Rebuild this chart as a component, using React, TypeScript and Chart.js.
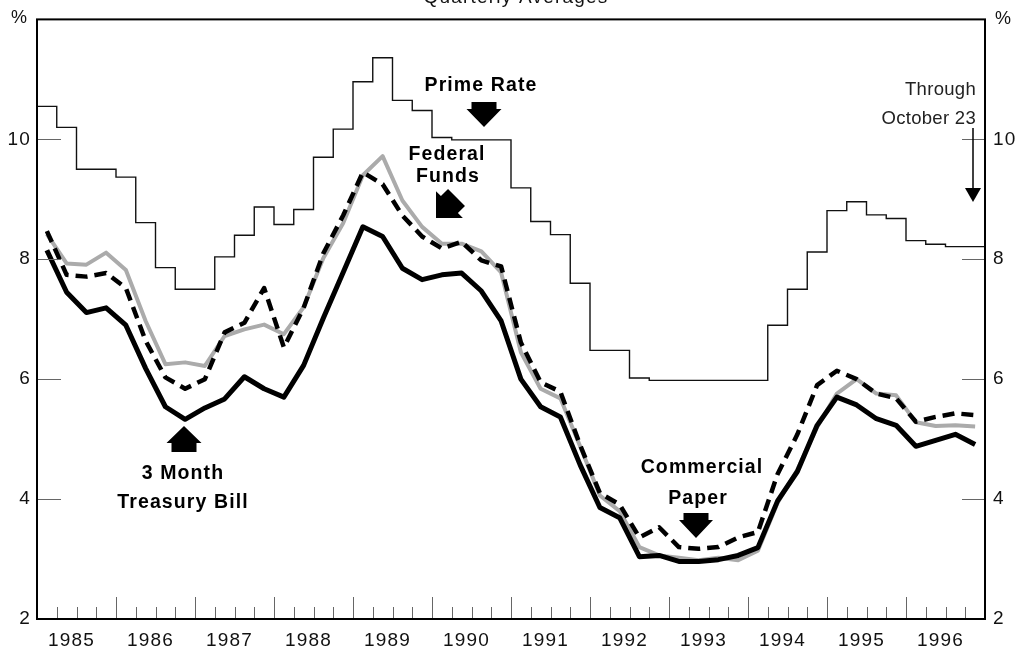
import React, { useEffect, useRef } from 'react';
import { Chart, registerables } from 'chart.js';

Chart.register(...registerables);

// ---- Data (quarterly averages, 1985 Q1 .. 1996 Q4) ----
const yearLabels = ['1985', '1986', '1987', '1988', '1989', '1990', '1991', '1992', '1993', '1994', '1995', '1996'];
const yTickValues = [2, 4, 6, 8, 10];

const primeRate = [
  10.55, 10.2, 9.5, 9.5,
  9.37, 8.61, 7.86, 7.5,
  7.5, 8.04, 8.4, 8.87,
  8.58, 8.83, 9.7, 10.17,
  10.96, 11.36, 10.65, 10.48,
  10.03, 9.99, 9.99, 9.99,
  9.19, 8.63, 8.41, 7.6,
  6.48, 6.48, 6.02, 5.98,
  5.98, 5.98, 5.98, 5.98,
  5.98, 6.9, 7.5, 8.12,
  8.81, 8.96, 8.74, 8.68,
  8.31, 8.25, 8.21, 8.21,
];

const fedFunds = [
  8.42, 7.93, 7.91, 8.11,
  7.82, 6.97, 6.25, 6.28,
  6.22, 6.72, 6.83, 6.91,
  6.75, 7.2, 8.02, 8.6,
  9.4, 9.72, 8.98, 8.54,
  8.26, 8.26, 8.13, 7.78,
  6.45, 5.84, 5.68, 4.88,
  4.06, 3.8, 3.2, 3.06,
  3.02, 2.98, 3.02, 2.98,
  3.14, 3.94, 4.49, 5.2,
  5.76, 6.0, 5.76, 5.73,
  5.28, 5.22, 5.23, 5.21,
];

const commercialPaper = [
  8.47, 7.74, 7.71, 7.77,
  7.52, 6.64, 6.03, 5.84,
  6.0, 6.78, 6.94, 7.52,
  6.53, 7.19, 8.1, 8.73,
  9.45, 9.25, 8.73, 8.38,
  8.18, 8.29, 7.98, 7.88,
  6.61, 5.95, 5.79, 4.9,
  4.1, 3.91, 3.36, 3.53,
  3.2, 3.17, 3.2, 3.36,
  3.45, 4.42, 5.08, 5.9,
  6.14, 6.0, 5.76, 5.68,
  5.29, 5.37, 5.43, 5.4,
];

const treasuryBill = [
  8.15, 7.45, 7.11, 7.19,
  6.9, 6.18, 5.54, 5.33,
  5.52, 5.67, 6.04, 5.84,
  5.7, 6.23, 7.02, 7.78,
  8.54, 8.38, 7.85, 7.66,
  7.74, 7.77, 7.47, 6.97,
  6.0, 5.54, 5.37, 4.57,
  3.86, 3.69, 3.04, 3.06,
  2.96, 2.96, 2.99, 3.06,
  3.19, 3.97, 4.46, 5.23,
  5.7, 5.57, 5.34, 5.23,
  4.88, 4.98, 5.08, 4.91,
];

const FONT = "'Liberation Sans', Arial, Helvetica, sans-serif";

const centerPoints = (values: number[]) => values.map((v, i) => ({ x: i + 0.5, y: v }));
const stepPoints = (values: number[]) => {
  const pts = values.map((v, i) => ({ x: i, y: v }));
  pts.push({ x: values.length, y: values[values.length - 1] });
  return pts;
};

function blockArrow(
  ctx: CanvasRenderingContext2D,
  tipX: number, tipY: number, angle: number,
  headW: number, headL: number, shaftW: number, shaftL: number
) {
  ctx.save();
  ctx.translate(tipX, tipY);
  ctx.rotate(angle);
  ctx.beginPath();
  ctx.moveTo(0, 0);
  ctx.lineTo(-headW / 2, -headL);
  ctx.lineTo(-shaftW / 2, -headL);
  ctx.lineTo(-shaftW / 2, -headL - shaftL);
  ctx.lineTo(shaftW / 2, -headL - shaftL);
  ctx.lineTo(shaftW / 2, -headL);
  ctx.lineTo(headW / 2, -headL);
  ctx.closePath();
  ctx.fillStyle = '#000';
  ctx.fill();
  ctx.restore();
}

const decorPlugin = {
  id: 'decor',
  beforeDraw(chart: any) {
    const ctx = chart.ctx as CanvasRenderingContext2D;
    ctx.save();
    ctx.fillStyle = '#fff';
    ctx.fillRect(0, 0, chart.width, chart.height);
    ctx.restore();
    (ctx as any).letterSpacing = '1.2px';
  },
  afterDraw(chart: any) {
    const ctx = chart.ctx as CanvasRenderingContext2D;
    const { left, right, top, bottom } = chart.chartArea;
    const xs = chart.scales.x;
    const ys = chart.scales.y;
    ctx.save();

    // inner tick marks on the y axes
    ctx.strokeStyle = '#666';
    ctx.lineWidth = 1;
    yTickValues.forEach((v) => {
      const py = Math.round(ys.getPixelForValue(v)) + 0.5;
      ctx.beginPath();
      ctx.moveTo(left, py);
      ctx.lineTo(left + 24, py);
      ctx.moveTo(right, py);
      ctx.lineTo(right - 23, py);
      ctx.stroke();
    });

    // quarterly tick marks on the x axis
    for (let k = 1; k < primeRate.length; k++) {
      const px = Math.round(xs.getPixelForValue(k)) + 0.5;
      const len = k % 4 === 0 ? 22 : 12;
      ctx.beginPath();
      ctx.moveTo(px, bottom);
      ctx.lineTo(px, bottom - len);
      ctx.stroke();
    }

    // frame
    ctx.strokeStyle = '#000';
    ctx.lineWidth = 2;
    ctx.strokeRect(left, top, right - left, bottom - top);

    // title (cut off at the top)
    ctx.fillStyle = '#111';
    (ctx as any).letterSpacing = '1.2px';
    ctx.font = `19px ${FONT}`;
    ctx.textAlign = 'center';
    ctx.textBaseline = 'alphabetic';
    ctx.fillText('Quarterly Averages', 516, 3);

    // percent signs
    ctx.font = `18px ${FONT}`;
    (ctx as any).letterSpacing = '0px';
    ctx.fillText('%', 19, 23);
    ctx.fillText('%', 1003, 24);

    // bold labels
    (ctx as any).letterSpacing = '1.1px';
    ctx.font = `bold 19.5px ${FONT}`;
    ctx.fillStyle = '#000';
    ctx.fillText('Prime Rate', 481, 91);
    ctx.fillText('Federal', 447, 160);
    ctx.fillText('Funds', 448, 182);
    ctx.fillText('3 Month', 183, 479);
    ctx.fillText('Treasury Bill', 183, 508);
    ctx.fillText('Commercial', 702, 473);
    ctx.fillText('Paper', 698, 504);

    // block arrows
    blockArrow(ctx, 484, 127, 0, 35, 18, 25, 7);
    blockArrow(ctx, 696, 538, 0, 34, 18, 25, 7);
    blockArrow(ctx, 184, 426, Math.PI, 35, 17, 25, 9);
    blockArrow(ctx, 436, 218, Math.PI / 4, 38, 19, 24, 10);

    // "Through October 23"
    (ctx as any).letterSpacing = '0.3px';
    ctx.font = `18.5px ${FONT}`;
    ctx.fillStyle = '#222';
    ctx.textAlign = 'right';
    ctx.fillText('Through', 976, 95);
    ctx.fillText('October 23', 976, 124);
    ctx.strokeStyle = '#000';
    ctx.lineWidth = 1.5;
    ctx.beginPath();
    ctx.moveTo(973, 128);
    ctx.lineTo(973, 190);
    ctx.stroke();
    ctx.beginPath();
    ctx.moveTo(965, 188);
    ctx.lineTo(981, 188);
    ctx.lineTo(973, 202);
    ctx.closePath();
    ctx.fillStyle = '#000';
    ctx.fill();

    ctx.restore();
  },
};

export default function App() {
  const ref = useRef<HTMLCanvasElement>(null);

  useEffect(() => {
    if (!ref.current) return;
    const tickFont = { family: FONT, size: 19 };
    const chart = new Chart(ref.current, {
      type: 'line',
      data: {
        datasets: [
          {
            label: '3 Month Treasury Bill',
            data: centerPoints(treasuryBill),
            borderColor: '#000',
            borderWidth: 5,
            pointRadius: 0,
            tension: 0,
            borderJoinStyle: 'round',
            order: 1,
          },
          {
            label: 'Commercial Paper',
            data: centerPoints(commercialPaper),
            borderColor: '#000',
            borderWidth: 4.5,
            borderDash: [12, 7],
            pointRadius: 0,
            tension: 0,
            borderJoinStyle: 'round',
            order: 2,
          },
          {
            label: 'Federal Funds',
            data: centerPoints(fedFunds),
            borderColor: '#ababab',
            borderWidth: 4,
            pointRadius: 0,
            tension: 0,
            borderJoinStyle: 'round',
            order: 3,
          },
          {
            label: 'Prime Rate',
            data: stepPoints(primeRate),
            borderColor: '#111',
            borderWidth: 1.4,
            pointRadius: 0,
            stepped: 'before',
            order: 4,
          },
        ],
      } as any,
      options: {
        responsive: false,
        animation: false,
        devicePixelRatio: 1,
        layout: { padding: { top: 14, left: 0, right: 0, bottom: 0 } },
        plugins: { legend: { display: false }, tooltip: { enabled: false }, title: { display: false } },
        scales: {
          x: {
            type: 'linear',
            min: 0,
            max: primeRate.length,
            grid: { display: false, drawTicks: false },
            border: { display: false },
            afterBuildTicks: (scale: any) => {
              scale.ticks = yearLabels.map((_, i) => ({ value: 4 * i + 1.75 }));
            },
            afterFit: (scale: any) => {
              scale.height = 30;
            },
            ticks: {
              autoSkip: false,
              maxRotation: 0,
              minRotation: 0,
              padding: 10,
              color: '#111',
              font: tickFont,
              callback: (_v: any, index: number) => yearLabels[index],
            },
          },
          y: {
            type: 'linear',
            position: 'left',
            min: 2,
            max: 12,
            grid: { display: false, drawTicks: false },
            border: { display: false },
            afterBuildTicks: (scale: any) => {
              scale.ticks = yTickValues.map((v) => ({ value: v }));
            },
            afterFit: (scale: any) => {
              scale.width = 37;
            },
            ticks: { padding: 6, color: '#111', font: tickFont },
          },
          y2: {
            type: 'linear',
            position: 'right',
            min: 2,
            max: 12,
            grid: { display: false, drawTicks: false },
            border: { display: false },
            afterBuildTicks: (scale: any) => {
              scale.ticks = yTickValues.map((v) => ({ value: v }));
            },
            afterFit: (scale: any) => {
              scale.width = 31;
            },
            ticks: { padding: 8, color: '#111', font: tickFont },
          },
        },
      } as any,
      plugins: [decorPlugin],
    });
    return () => chart.destroy();
  }, []);

  return (
    <div style={{ position: 'fixed', left: 0, top: 0, width: 1016, height: 649, background: '#fff' }}>
      <canvas ref={ref} width={1016} height={649} style={{ display: 'block' }} />
    </div>
  );
}
